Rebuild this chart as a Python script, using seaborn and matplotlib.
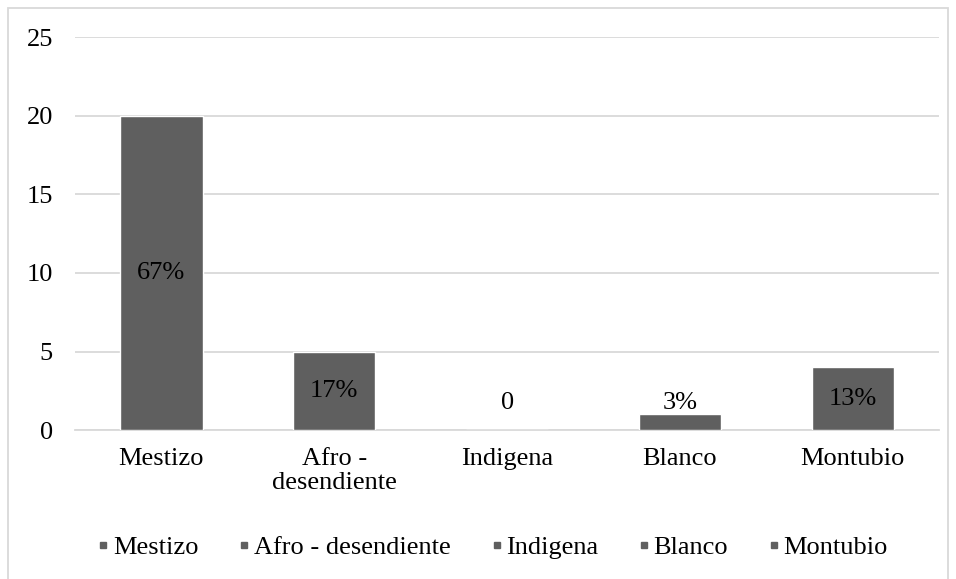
import pandas as pd
import matplotlib.pyplot as plt
import seaborn as sns
from matplotlib.lines import Line2D
from matplotlib.patches import Rectangle

# Data
categorias = ['Mestizo', 'Afro - desendiente', 'Indigena', 'Blanco', 'Montubio']
etiquetas_x = ['Mestizo', 'Afro -\ndesendiente', 'Indigena', 'Blanco', 'Montubio']
cantidad = [20, 5, 0, 1, 4]
etiquetas = ['67%', '17%', '0', '3%', '13%']

data = pd.DataFrame({'Etnia': categorias, 'Cantidad': cantidad})

sns.set_style('white')
plt.rcParams['font.family'] = ['Liberation Serif', 'DejaVu Serif']
plt.rcParams['text.color'] = 'black'
plt.rcParams['xtick.labelcolor'] = 'black'
plt.rcParams['ytick.labelcolor'] = 'black'

color_barra = '#5f5f5f'
gris = '#d9d9d9'
fs = 19

fig = plt.figure(figsize=(9.56, 5.79), dpi=100)
ax = fig.add_axes([0.0785, 0.257, 0.904, 0.679])

sns.barplot(data=data, x='Etnia', y='Cantidad', color=color_barra, width=0.475,
            saturation=1, ax=ax, zorder=3)

ax.set_ylim(0, 25)
ax.set_xlim(-0.5, 4.5)
ax.set_yticks(range(0, 26, 5))
ax.yaxis.grid(True, color=gris, linewidth=1.3, zorder=0)
ax.set_axisbelow(True)
ax.set_xlabel('')
ax.set_ylabel('')
ax.set_xticks(range(5))
ax.set_xticklabels(etiquetas_x, fontsize=fs, linespacing=1.12)
ax.set_xticks([i - 0.5 for i in range(6)], minor=True)
ax.tick_params(axis='x', which='major', length=0, pad=13, labelcolor='black')
ax.tick_params(axis='x', which='minor', length=7, color=gris, width=1.3)
ax.tick_params(axis='y', length=0, labelsize=fs, pad=16, labelcolor='black')

for s in ['top', 'right', 'left']:
    ax.spines[s].set_visible(False)
ax.spines['bottom'].set_color(gris)
ax.spines['bottom'].set_linewidth(1.3)

# Data labels
for i, (v, t) in enumerate(zip(cantidad, etiquetas)):
    y = v / 2 if v >= 2 else 1.7
    ax.text(i, y, t, ha='center', va='center', fontsize=fs, color='black', zorder=4)

# Legend
handles = [Line2D([0], [0], marker='s', color='none', markerfacecolor=color_barra,
                  markeredgecolor=color_barra, markersize=5) for _ in categorias]
fig.legend(handles, categorias, loc='center', bbox_to_anchor=(0.515, 0.055), ncol=5,
           frameon=False, fontsize=fs, handletextpad=0.1, columnspacing=1.5,
           handlelength=0.5, labelcolor='black')

# Chart border
fig.patches.append(Rectangle((8 / 956, -0.01), 940 / 956, 1 - 8 / 579 + 0.01,
                             transform=fig.transFigure, fill=False,
                             edgecolor=gris, linewidth=1.3))

plt.savefig('out.png', dpi=100)
